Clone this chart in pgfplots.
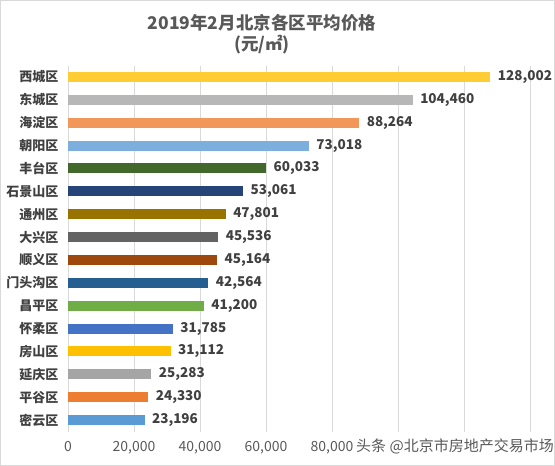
\documentclass[border=0pt]{standalone}
\usepackage{pgfplots}
\pgfplotsset{compat=1.18}
\usepackage{fontspec}
\setmainfont{Noto Sans CJK SC}
\definecolor{c01}{HTML}{FFCD33}
\definecolor{c02}{HTML}{B7B7B7}
\definecolor{c03}{HTML}{F1975A}
\definecolor{c04}{HTML}{7CAFDD}
\definecolor{c05}{HTML}{43682B}
\definecolor{c06}{HTML}{264478}
\definecolor{c07}{HTML}{997300}
\definecolor{c08}{HTML}{636363}
\definecolor{c09}{HTML}{9E480E}
\definecolor{c10}{HTML}{255E91}
\definecolor{c11}{HTML}{70AD47}
\definecolor{c12}{HTML}{4472C4}
\definecolor{c13}{HTML}{FFC000}
\definecolor{c14}{HTML}{A5A5A5}
\definecolor{c15}{HTML}{ED7D31}
\definecolor{c16}{HTML}{5B9BD5}
\definecolor{gridc}{HTML}{D9D9D9}
\definecolor{txtdark}{HTML}{404040}
\definecolor{txtgray}{HTML}{595959}
\begin{document}
\begin{tikzpicture}[x=1pt,y=1pt]
\useasboundingbox (0,0) rectangle (555,466);
\draw[draw=gridc] (0.5,0.5) rectangle (554.5,465.5);
\node[font=\bfseries\fontsize{17.5}{20}\selectfont, text=txtgray] at (262,443) {2019年2月北京各区平均价格};
\node[font=\bfseries\fontsize{17.5}{20}\selectfont, text=txtgray] at (262,421) {(元/㎡)};
\begin{axis}[
  at={(68pt,34.5pt)}, anchor=south west,
  scale only axis, width=462pt, height=366pt,
  xmin=0, xmax=140000, ymin=-0.5, ymax=15.5,
  y dir=reverse,
  xbar, bar width=10pt, bar shift=0pt,
  axis line style={draw=none},
  xmajorgrids, major grid style={draw=gridc, line width=0.8pt},
  major tick length=0pt,
  xtick={0,20000,...,140000},
  xticklabels={0,{20,000},{40,000},{60,000},{80,000},{},{},{}},
  xticklabel style={font=\fontsize{14}{16}\selectfont, text=txtgray, yshift=-6pt},
  ytick={0,...,15},
  yticklabels={西城区,东城区,海淀区,朝阳区,丰台区,石景山区,通州区,大兴区,顺义区,门头沟区,昌平区,怀柔区,房山区,延庆区,平谷区,密云区},
  yticklabel style={font=\bfseries\fontsize{13}{15}\selectfont, text=txtdark, xshift=-6pt},
  point meta=x,
  nodes near coords={\pgfmathprintnumber[fixed,precision=0,1000 sep={,},assume math mode=true]{\pgfplotspointmeta}},
  nodes near coords style={font=\bfseries\fontsize{13.5}{15}\selectfont, text=txtdark, anchor=west, xshift=4pt},
  every axis plot/.append style={draw=none},
]
\addplot[fill=c01] coordinates {(128002,0)};
\addplot[fill=c02] coordinates {(104460,1)};
\addplot[fill=c03] coordinates {(88264,2)};
\addplot[fill=c04] coordinates {(73018,3)};
\addplot[fill=c05] coordinates {(60033,4)};
\addplot[fill=c06] coordinates {(53061,5)};
\addplot[fill=c07] coordinates {(47801,6)};
\addplot[fill=c08] coordinates {(45536,7)};
\addplot[fill=c09] coordinates {(45164,8)};
\addplot[fill=c10] coordinates {(42564,9)};
\addplot[fill=c11] coordinates {(41200,10)};
\addplot[fill=c12] coordinates {(31785,11)};
\addplot[fill=c13] coordinates {(31112,12)};
\addplot[fill=c14] coordinates {(25283,13)};
\addplot[fill=c15] coordinates {(24330,14)};
\addplot[fill=c16] coordinates {(23196,15)};
\end{axis}
\node[font=\fontsize{15}{17}\selectfont, text=black!65, inner sep=1pt] at (455,20) {头条 @北京市房地产交易市场};
\end{tikzpicture}
\end{document}
